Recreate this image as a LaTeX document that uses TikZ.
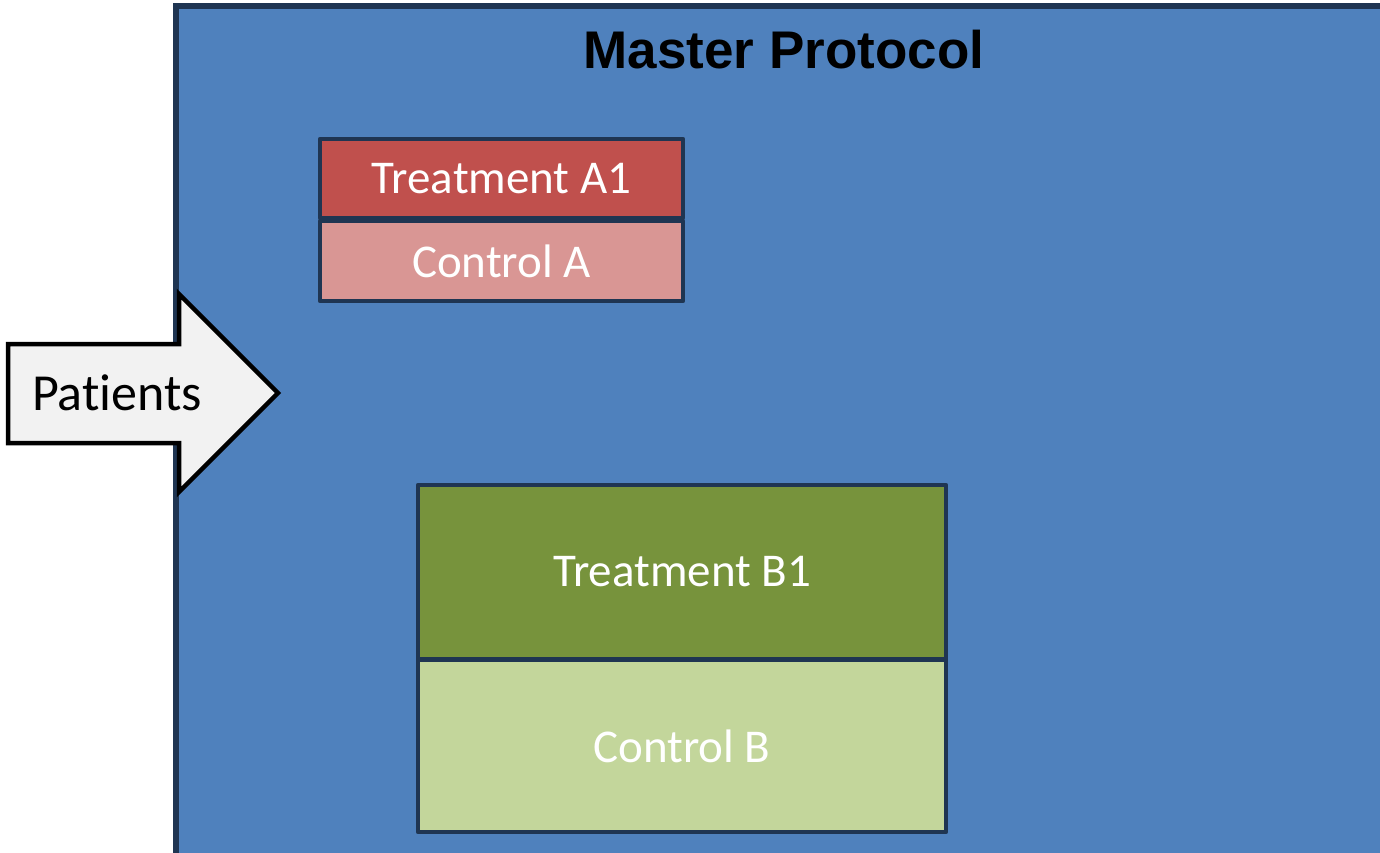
\documentclass[tikz,border=0pt]{standalone}
\usepackage{fontspec}
\setmainfont[Ligatures={NoCommon}]{Carlito}
\newfontfamily\titlefont{Liberation Sans}
\definecolor{mpblue}{HTML}{4F81BD}
\definecolor{navy}{HTML}{1F3552}
\definecolor{redA}{HTML}{C0504D}
\definecolor{pinkA}{HTML}{D99694}
\definecolor{greenB}{HTML}{77933C}
\definecolor{lgreenB}{HTML}{C3D69B}
\definecolor{arrowfill}{HTML}{F2F2F2}
\tikzset{
  armbox/.style={draw=navy, line width=4.5pt, text=white, inner sep=0pt,
    font=\fontsize{47}{56}\selectfont, line join=round},
}
\begin{document}
\begin{tikzpicture}[x=1pt,y=-1pt]
\useasboundingbox (0,0) rectangle (1380,852);
\clip (0,0) rectangle (1380,852);
% master protocol
\draw[navy, line width=6pt, fill=mpblue] (176,6) rectangle (1420,900);
\node[font=\titlefont\bfseries\fontsize{53}{60}\selectfont, text=black] (title) at (784,50) {Master Protocol};
% arms A
\node[armbox, fill=redA, minimum width=363pt, minimum height=79pt] (a1) at (501.5,178.5) {Treatment A1};
\node[armbox, fill=pinkA, minimum width=363pt, minimum height=80pt] (ca) at (501.5,261) {Control A};
% arms B
\node[armbox, fill=greenB, minimum width=528pt, minimum height=174pt] (b1) at (682,572) {Treatment B1};
\node[armbox, fill=lgreenB, minimum width=528pt, minimum height=172pt] (cb) at (682,746) {Control B};
% patients arrow
\draw[black, line width=4.5pt, fill=arrowfill, line join=miter]
  (8,344) -- (179,344) -- (179,294) -- (278,393) -- (179,492) -- (179,443) -- (8,443) -- cycle;
\node[anchor=base west, inner sep=0pt, font=\fontsize{52}{60}\selectfont, text=black] (pat) at (32,410) {Patients};
\end{tikzpicture}
\end{document}
